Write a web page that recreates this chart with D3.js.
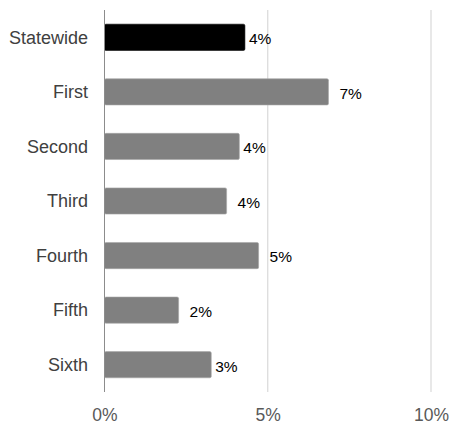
<!DOCTYPE html>
<html><head><meta charset="utf-8">
<script src="https://cdn.jsdelivr.net/npm/d3@7"></script>
<style>body{margin:0;background:#fff}svg{display:block}</style>
</head><body><div id="chart"></div>
<script>
const categories = ["Statewide","First","Second","Third","Fourth","Fifth","Sixth"];
const values = [4.3, 6.86, 4.13, 3.74, 4.72, 2.27, 3.27];
const valueLabels = ["4%","7%","4%","4%","5%","2%","3%"];
const tickValues = [0, 5, 10];
const tickLabels = ["0%","5%","10%"];

const W = 451, H = 424;
const svg = d3.select("#chart").append("svg").attr("width", W).attr("height", H);
const x = d3.scaleLinear().domain([0, 10]).range([104.5, 431]);
const y = d3.scaleBand().domain(categories).range([10, 392]).paddingInner(0.52).paddingOuter(0.26);

// gridlines
svg.append("g").selectAll("line").data(tickValues.slice(1)).join("line")
  .attr("x1", d => x(d)).attr("x2", d => x(d)).attr("y1", 10).attr("y2", 392)
  .attr("stroke", "#d9d9d9").attr("stroke-width", 1.2);

// bars
svg.append("g").selectAll("rect").data(categories).join("rect")
  .attr("x", x(0)).attr("y", d => y(d))
  .attr("width", (d, i) => x(values[i]) - x(0)).attr("height", y.bandwidth())
  .attr("rx", 1.5)
  .attr("fill", (d, i) => i === 0 ? "#000000" : "#808080")
  .attr("stroke", (d, i) => i === 0 ? "#000" : "#a6a6a6").attr("stroke-width", 0.6);

// zero axis line
svg.append("line").attr("x1", x(0)).attr("x2", x(0)).attr("y1", 10).attr("y2", 392)
  .attr("stroke", "#8c8c8c").attr("stroke-width", 1);

// category labels
const yAxis = d3.axisLeft(y).tickSize(0).tickPadding(0);
const ya = svg.append("g").attr("transform", `translate(88,0)`).call(yAxis);
ya.select(".domain").remove();
ya.selectAll("text").attr("font-family", "Liberation Sans, Arial, sans-serif")
  .attr("font-size", 18).attr("fill", "#404040").attr("dy", "0.35em");

// x tick labels
const xAxis = d3.axisBottom(x).tickValues(tickValues).tickFormat((d, i) => tickLabels[i]).tickSize(0).tickPadding(0);
const xa = svg.append("g").attr("transform", `translate(0,415)`).call(xAxis);
xa.select(".domain").remove();
xa.selectAll("text").attr("font-family", "Liberation Sans, Arial, sans-serif")
  .attr("font-size", 17.5).attr("fill", "#595959").attr("dy", "0.35em").attr("y", 0);

// value labels
const labelGap = [4, 11, 4, 11, 11, 11, 4];
svg.append("g").selectAll("text").data(categories).join("text")
  .attr("x", (d, i) => x(values[i]) + labelGap[i])
  .attr("y", d => y(d) + y.bandwidth() / 2 + 1.5)
  .attr("dy", "0.35em")
  .attr("font-family", "Liberation Sans, Arial, sans-serif")
  .attr("font-size", 15.5).attr("fill", "#000")
  .text((d, i) => valueLabels[i]);
</script></body></html>
